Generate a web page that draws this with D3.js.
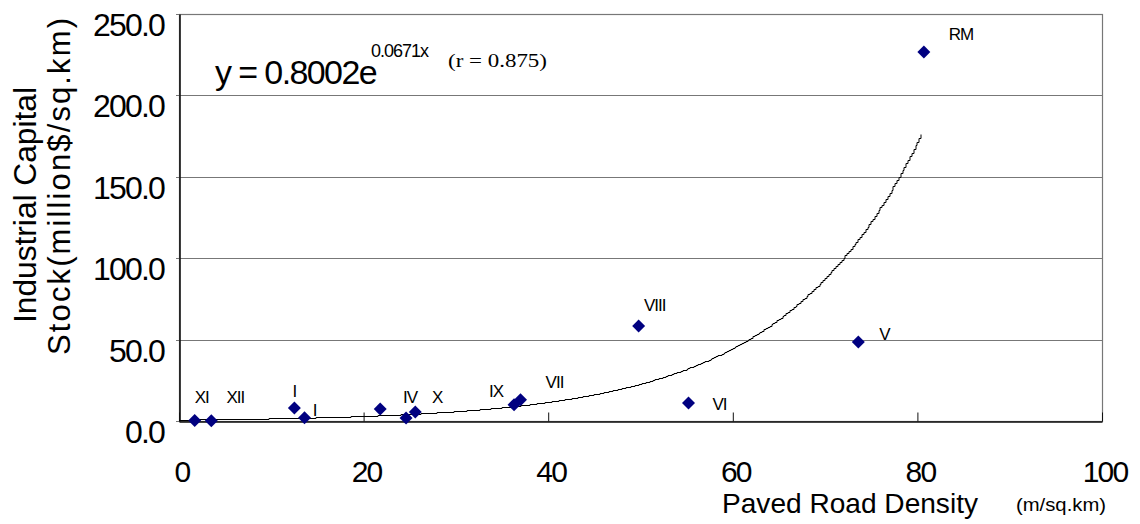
<!DOCTYPE html>
<html>
<head>
<meta charset="utf-8">
<script src="https://cdn.jsdelivr.net/npm/d3@7"></script>
<style>
  body { margin: 0; background: #fff; }
  text { font-family: "Liberation Sans", Arial, sans-serif; }
</style>
</head>
<body>
<div id="chart"></div>
<script>
// point data
const regions = ["XI", "XII", "I", "II", "III", "IV", "X", "IX", "VII", "VIII", "VI", "V", "RM"];
const roadDensity = [1.7, 3.5, 12.5, 13.6, 21.8, 24.6, 25.6, 36.3, 37.0, 49.8, 55.2, 73.6, 80.7];
const capitalStock = [0.3, 0.2, 8.0, 2.0, 7.4, 1.8, 5.5, 10.0, 13.0, 58.4, 11.0, 48.5, 226.7];
// label text as printed, with offsets from the marker
const labelText = ["XI", "XII", "I", "I", "", "IV", "X", "IX", "VII", "VIII", "VI", "V", "RM"];
const labelDx = [7, 24, 0, 10, 0, 4, 22, -18, 34, 16, 31, 26, 37];
const labelDy = [-18, -18, -11, -2, 0, -15, -9, -8, -12, -15, 7, -2, -12];

const xTicks = [0, 20, 40, 60, 80, 100];
const yTicks = [0, 50, 100, 150, 200, 250];

// trend: y = a * e^(b x), drawn up to trendEnd
const trendA = 0.8002, trendB = 0.0671, trendEnd = 80.4;

function chart() {
    const width = 1140, height = 524;
    const margin = {left: 179, top: 14, right: 38, bottom: 103};
    const iw = width - margin.left - margin.right;
    const ih = height - margin.top - margin.bottom;

    const x = d3.scaleLinear().domain([0, 100]).range([0, iw]);
    const y = d3.scaleLinear().domain([0, 250]).range([ih, 0]);

    const svg = d3.create("svg")
        .attr("width", width)
        .attr("height", height);

    const g = svg.append("g")
        .attr("transform", `translate(${margin.left},${margin.top})`);

    // gridlines
    g.append("g")
        .selectAll("line")
        .data(yTicks)
        .join("line")
        .attr("x1", -3)
        .attr("x2", iw)
        .attr("y1", d => Math.round(y(d)) + 0.5)
        .attr("y2", d => Math.round(y(d)) + 0.5)
        .attr("stroke", "#777")
        .attr("stroke-width", 1.2);

    // plot border
    g.append("rect")
        .attr("x", 0.5)
        .attr("y", 0.5)
        .attr("width", iw)
        .attr("height", ih)
        .attr("fill", "none")
        .attr("stroke", "#777")
        .attr("stroke-width", 1.2);

    // axes
    const xAxis = g.append("g")
        .attr("transform", `translate(0,${ih + 0.5})`)
        .call(d3.axisBottom(x).tickValues(xTicks).tickSizeInner(-9).tickSizeOuter(0).tickFormat(""));
    xAxis.select(".domain").attr("stroke", "#111").attr("stroke-width", 1.6);
    xAxis.selectAll(".tick line").attr("stroke", "#111");

    const yAxis = g.append("g")
        .attr("transform", "translate(0.5,0)")
        .call(d3.axisLeft(y).tickValues(yTicks).tickSize(0).tickFormat(""));
    yAxis.select(".domain").attr("stroke", "#111").attr("stroke-width", 1.6);

    // tick labels
    g.append("g")
        .selectAll("text")
        .data(xTicks)
        .join("text")
        .attr("x", d => x(d) + 3)
        .attr("y", ih + 61)
        .attr("text-anchor", "middle")
        .attr("font-size", 30)
        .attr("letter-spacing", -1.8)
        .text(d => d);

    g.append("g")
        .selectAll("text")
        .data(yTicks)
        .join("text")
        .attr("x", -15)
        .attr("y", d => y(d) + 22)
        .attr("text-anchor", "end")
        .attr("font-size", 32)
        .attr("letter-spacing", -1.8)
        .text(d => d.toFixed(1));

    // trend curve, snapped to whole pixels like the original rendering
    const trendX = d3.range(0, trendEnd, 0.2).concat([trendEnd]);
    g.append("path")
        .datum(trendX)
        .attr("fill", "none")
        .attr("stroke", "#000")
        .attr("stroke-width", 1)
        .attr("d", d3.line()
            .curve(d3.curveStepAfter)
            .x(d => Math.round(x(d)))
            .y(d => Math.round(y(trendA * Math.exp(trendB * d))) + 0.5));

    // points
    const pts = regions.map((r, i) => ({r, x: roadDensity[i], y: capitalStock[i], i}));
    g.append("g")
        .selectAll("path")
        .data(pts)
        .join("path")
        .attr("d", d3.symbol(d3.symbolSquare, 84))
        .attr("transform", d => `translate(${x(d.x)},${y(d.y)}) rotate(45)`)
        .attr("fill", "#000080");

    g.append("g")
        .selectAll("text")
        .data(pts)
        .join("text")
        .attr("x", d => x(d.x) + labelDx[d.i])
        .attr("y", d => y(d.y) + labelDy[d.i])
        .attr("text-anchor", "middle")
        .attr("font-size", 17)
        .attr("letter-spacing", -1)
        .text(d => labelText[d.i]);

    // equation, exponent as a raised tspan
    const eq = svg.append("text")
        .attr("x", 215)
        .attr("y", 84)
        .attr("font-size", 34)
        .attr("letter-spacing", -1.6);
    eq.append("tspan").text("y = 0.8002e");
    eq.append("tspan")
        .attr("x", 371)
        .attr("dy", -27)
        .attr("font-size", 18)
        .attr("letter-spacing", -1)
        .text("0.0671x");
    svg.append("text")
        .attr("x", 448)
        .attr("y", 67)
        .style("font-family", "'Liberation Serif', serif")
        .attr("font-size", 19)
        .attr("textLength", 99)
        .attr("lengthAdjust", "spacingAndGlyphs")
        .text("(r = 0.875)");

    // axis titles
    svg.append("text")
        .attr("x", 722)
        .attr("y", 513)
        .attr("font-size", 27.5)
        .attr("textLength", 256)
        .attr("lengthAdjust", "spacingAndGlyphs")
        .text("Paved Road Density");
    svg.append("text")
        .attr("x", 1016)
        .attr("y", 511)
        .attr("font-size", 18)
        .attr("textLength", 90)
        .attr("lengthAdjust", "spacingAndGlyphs")
        .text("(m/sq.km)");

    svg.append("text")
        .attr("transform", "translate(36,323) rotate(-90)")
        .attr("font-size", 31)
        .attr("textLength", 236)
        .attr("lengthAdjust", "spacingAndGlyphs")
        .text("Industrial Capital");
    svg.append("text")
        .attr("transform", "translate(70,355) rotate(-90)")
        .attr("font-size", 31)
        .attr("textLength", 337)
        .text("Stock(million$/sq.km)");

    return svg.node();
}

document.getElementById("chart").appendChild(chart());
</script>
</body>
</html>
